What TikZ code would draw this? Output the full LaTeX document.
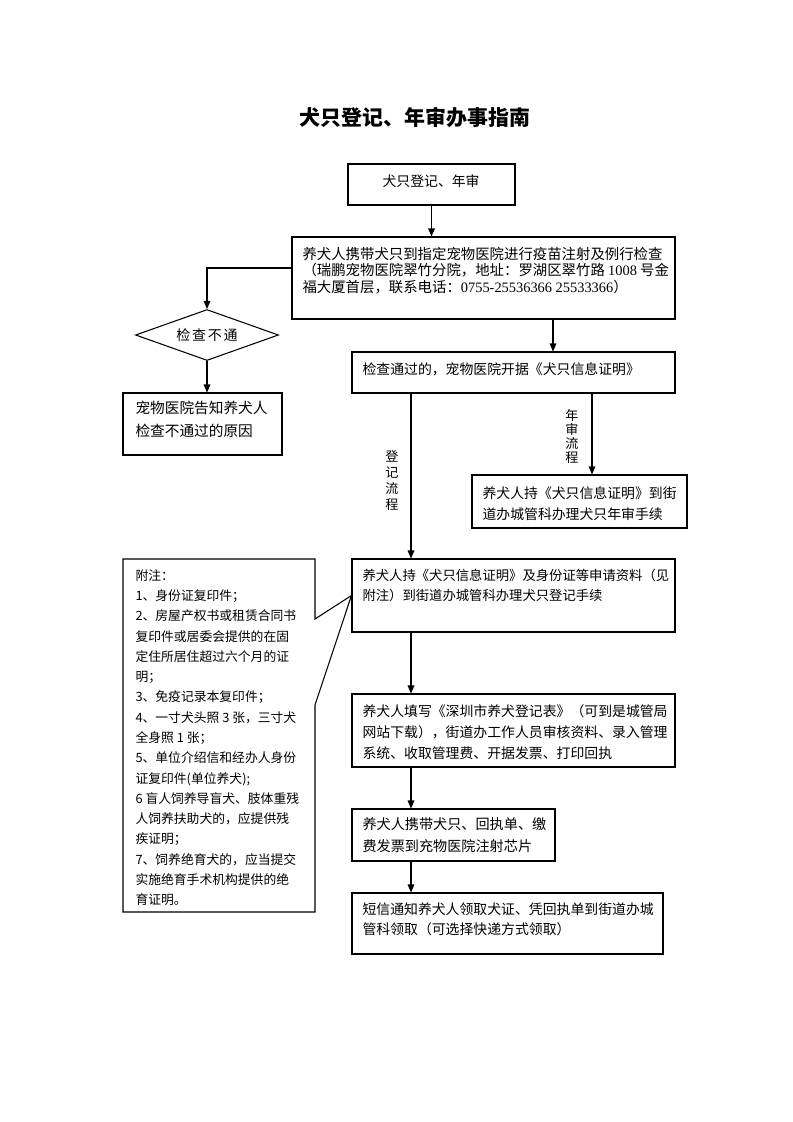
\documentclass[tikz,border=0pt]{standalone}
\usepackage{fontspec}
\setmainfont{Noto Sans CJK SC}
\newfontfamily\lat{Liberation Serif}
\usetikzlibrary{arrows.meta, shapes.geometric, fit}

\begin{document}
\begin{tikzpicture}[x=0.75pt, y=-0.75pt, line width=0.8pt,
    box/.style={draw, inner sep=0pt},
    txt/.style={anchor=north west, inner sep=0pt, align=left, font=\fontsize{10.4}{15.75}\selectfont},
    flow/.style={inner sep=0pt, align=center},
    arr/.style={-{Triangle[length=6pt, width=5pt]}}]
    \useasboundingbox (0,0) rectangle (793,1122);
    \fill[white] (0,0) rectangle (793,1122);
    % title
    \node[font=\fontsize{15.7}{18}\selectfont\bfseries] (title) at (415,117) {犬只登记、年审办事指南};

    % frames
    \node[box, fit={(348,164) (515,205)}] (b1) {};
    \node[box, fit={(292,237) (675,319)}] (b2) {};
    \node[box, diamond, aspect=2.8, minimum width=107.25pt, minimum height=38.25pt,
        font=\fontsize{10.5}{12}\selectfont\addfontfeature{LetterSpace=12}] (d1) at (207,335) {检查不通};
    \node[box, fit={(123,393) (282,455)}] (b3) {};
    \node[box, fit={(352,352) (675,393)}] (b4) {};
    \node[box, fit={(472,475) (687,528)}] (b5) {};
    \node[box, fit={(352,559) (675,632)}] (b6) {};
    \node[box, fit={(352,694) (675,767)}] (b7) {};
    \node[box, fit={(352,809) (555,861)}] (b8) {};
    \node[box, fit={(352,893) (663,954)}] (b9) {};

    % texts in the frames
    \node[txt] (t1) at (382,174) {犬只登记、年审};
    \node[txt, font=\fontsize{10.8}{12.5}\selectfont] (t2) at (302,246.5) {养犬人携带犬只到指定宠物医院进行疫苗注射及例行检查\\（瑞鹏宠物医院翠竹分院，地址：罗湖区翠竹路 {\lat 1008} 号金\\福大厦首层，联系电话：{\lat 0755-25536366 25533366}）};
    \node[txt, font=\fontsize{11}{17.25}\selectfont] (t3) at (135,400.5) {宠物医院告知养犬人\\检查不通过的原因};
    \node[txt] (t4) at (362,362) {检查通过的，宠物医院开据《犬只信息证明》};
    \node[txt] (t5) at (482,486) {养犬人持《犬只信息证明》到街\\道办城管科办理犬只年审手续};
    \node[txt, font=\fontsize{10}{15}\selectfont] (t6) at (362,569) {养犬人持《犬只信息证明》及身份证等申请资料（见\\附注）到街道办城管科办理犬只登记手续};
    \node[txt] (t7) at (362,704) {养犬人填写《深圳市养犬登记表》（可到是城管局\\网站下载），街道办工作人员审核资料、录入管理\\系统、收取管理费、开据发票、打印回执};
    \node[txt, font=\fontsize{10.6}{16.5}\selectfont] (t8) at (362,817) {养犬人携带犬只、回执单、缴\\费发票到充物医院注射芯片};
    \node[txt, font=\fontsize{10.4}{15}\selectfont] (t9) at (362,902) {短信通知养犬人领取犬证、凭回执单到街道办城\\管科领取（可选择快递方式领取）};

    % notes with callout
    \node[txt, font=\fontsize{9.6}{15.2}\selectfont] (notes) at (135,569) {附注：\\1、身份证复印件；\\2、房屋产权书或租赁合同书\\复印件或居委会提供的在固\\定住所居住超过六个月的证\\明；\\3、免疫记录本复印件；\\4、一寸犬头照 3 张，三寸犬\\全身照 1 张；\\5、单位介绍信和经办人身份\\证复印件(单位养犬);\\6 盲人饲养导盲犬、肢体重残\\人饲养扶助犬的，应提供残\\疾证明；\\7、饲养绝育犬的，应当提交\\实施绝育手术机构提供的绝\\育证明。};
    \draw (123,559) -- (315,559) -- (315,619) -- (b6.west) -- (315,705) -- (315,912) -- (123,912) -- cycle;

    % labels on the two flows
    \node[flow, font=\fontsize{9.8}{12}\selectfont] (lreg) at (392,481) {登\\记\\流\\程};
    \node[flow, font=\fontsize{9.8}{10.5}\selectfont] (lann) at (572,436) {年\\审\\流\\程};

    % connectors
    \coordinate (passx) at (553,0);
    \coordinate (regx) at (411,0);
    \coordinate (annx) at (592,0);
    \draw[arr] (b1.south) -- (b1.south |- b2.north);
    \draw[arr] ([yshift=7.5pt]b2.west) -| (d1.north);
    \draw[arr] (d1.south) -- (d1.south |- b3.north);
    \draw[arr] (b2.south -| passx) -- (b4.north -| passx);
    \draw[arr] (b4.south -| regx) -- (b6.north -| regx);
    \draw[arr] (b4.south -| annx) -- (b5.north -| annx);
    \draw[arr] (b6.south -| regx) -- (b7.north -| regx);
    \draw[arr] (b7.south -| regx) -- (b8.north -| regx);
    \draw[arr] (b8.south -| regx) -- (b9.north -| regx);
\end{tikzpicture}
\end{document}
